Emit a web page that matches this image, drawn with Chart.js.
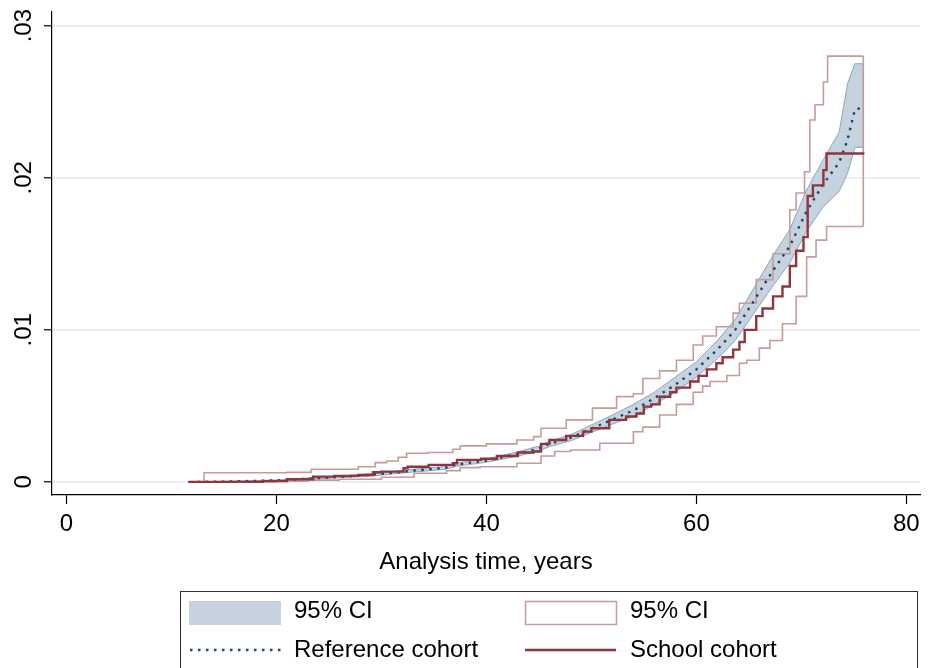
<!DOCTYPE html>
<html>
<head>
<meta charset="utf-8">
<script src="https://cdn.jsdelivr.net/npm/chart.js@4.4.1/dist/chart.umd.min.js"></script>
<style>
  html, body { margin: 0; padding: 0; background: #fff; }
</style>
</head>
<body>
<canvas id="kmChart" width="929" height="668"></canvas>
<script>
// axis ticks
const xTicks = [0, 20, 40, 60, 80];
const yTicks = [0, 0.01, 0.02, 0.03];
const yTickLabels = ["0", ".01", ".02", ".03"];
const legendLabels = ["95% CI", "Reference cohort", "95% CI", "School cohort"];

// Reference cohort: estimate + 95% CI
const refTime = [12.5, 15, 20, 24, 28, 30, 33, 36, 37.2, 40, 43, 45, 46, 48, 50, 52, 54, 56, 58, 60,
  62, 63.7, 65.1, 66.2, 67.3, 68.9, 70.5, 72.1, 73.6, 74.4, 75.1, 75.9];
const refEst = [0, 0.00002, 0.0001, 0.00025, 0.00042, 0.00053, 0.00074, 0.00092, 0.00115, 0.0014,
  0.00184, 0.0022, 0.0025, 0.0029, 0.0035, 0.0041, 0.0047, 0.0055, 0.0064, 0.0074,
  0.0087, 0.0100, 0.0115, 0.0127, 0.0139, 0.0155, 0.0178, 0.0196, 0.0210, 0.0225, 0.0245, 0.0246];
const refLo = [0, 0.00001, 0.00007, 0.0002, 0.00035, 0.00045, 0.00065, 0.00082, 0.00104, 0.00129,
  0.0017, 0.00204, 0.00232, 0.0027, 0.00325, 0.0038, 0.0043, 0.0051, 0.0059, 0.0069,
  0.0081, 0.0093, 0.0107, 0.0118, 0.0129, 0.0144, 0.0165, 0.0181, 0.0191, 0.0203, 0.0220, 0.0220];
const refHi = [0, 0.00004, 0.00013, 0.0003, 0.00049, 0.00061, 0.00083, 0.00102, 0.00126, 0.00151,
  0.00198, 0.00236, 0.00268, 0.0031, 0.00375, 0.0044, 0.0051, 0.0059, 0.0069, 0.0079,
  0.0093, 0.0107, 0.0123, 0.0136, 0.0149, 0.0166, 0.0192, 0.0212, 0.0230, 0.0262, 0.0275, 0.0275];

// School cohort: step estimate
const schoolTime = [11.6, 18.7, 21, 23.5, 25.5, 27.8, 29.2, 30, 32.1, 32.5, 34.5, 36.8, 37.2, 39.5, 41,
  43, 44.5, 45.2, 46, 47.6, 49.2, 50, 51.7, 53.3, 54.3, 55, 55.7, 56.5, 57.5, 58.1,
  59.4, 60.2, 61, 61.9, 62.5, 63.5, 64.1, 64.6, 65.7, 66.3, 67.3, 68.2, 68.9, 69.5, 70.2,
  70.6, 71.1, 72.1, 72.4, 76.0];
const schoolEst = [0, 0.00005, 0.00018, 0.00035, 0.0004, 0.00046, 0.00064, 0.00068, 0.0009, 0.001,
  0.00112, 0.00123, 0.00145, 0.00152, 0.0017, 0.00193, 0.002, 0.0025, 0.00276, 0.00303,
  0.00331, 0.00353, 0.00408, 0.0043, 0.0045, 0.00495, 0.0051, 0.0056, 0.0059, 0.0062,
  0.0066, 0.00697, 0.0074, 0.0078, 0.0082, 0.0087, 0.0092, 0.0100, 0.0109, 0.0114,
  0.0122, 0.01285, 0.0142, 0.0152, 0.0161, 0.0188, 0.0195, 0.0205, 0.0216, 0.0216];

// School cohort: 95% CI bounds
const schoolHiTime = [11.6, 13.1, 21, 23.3, 27.8, 29.4, 30.5, 31.6, 32.4, 34.4, 36.8, 37.5, 40, 42.9, 44.5,
  45.2, 47.6, 50.1, 52.4, 54, 54.9, 56.5, 58.1, 59.7, 60.6, 61.9, 63.5, 64.1, 65.7, 67.3,
  68.9, 69.5, 70.3, 70.8, 71.3, 72.1, 72.5, 75.9];
const schoolHi = [0, 0.0006, 0.00063, 0.00083, 0.001, 0.00127, 0.00138, 0.00162, 0.00189, 0.00193,
  0.00215, 0.00237, 0.0025, 0.00276, 0.00298, 0.00353, 0.00408, 0.00485, 0.00561, 0.0058,
  0.0068, 0.0073, 0.0080, 0.0090, 0.0096, 0.0102, 0.0111, 0.01175, 0.0133, 0.0150,
  0.0179, 0.0190, 0.0204, 0.0238, 0.0248, 0.0263, 0.0280, 0.0280];
const schoolLoTime = [11.6, 20, 23, 26, 30, 33.1, 36.2, 37.5, 39.4, 42.9, 45.2, 46.5, 48, 50.8, 54,
  54.9, 56.5, 58.1, 59.7, 60.6, 61.3, 62.9, 64.1, 64.8, 66, 67, 68.2, 69.5, 70.5, 71.4,
  72.4, 75.9];
const schoolLo = [0, 0.00005, 0.00012, 0.00018, 0.00031, 0.00057, 0.00074, 0.00094, 0.001, 0.00123,
  0.0017, 0.002, 0.0021, 0.00254, 0.0033, 0.0036, 0.0044, 0.0051, 0.0059, 0.0063,
  0.0066, 0.0070, 0.0078, 0.0080, 0.0088, 0.0093, 0.0104, 0.0122, 0.0148, 0.0159,
  0.0168, 0.0168];

const FONT = '"Liberation Sans", Arial, sans-serif';
const navy = "#1a476f";
const maroon = "#90353b";
const pink = "#c69c98";
const bandFill = "#c6d2de";
const bandEdge = "#8ea5bd";

function toPoints(times, values) {
  return times.map((t, i) => ({ x: t, y: values[i] }));
}

// close the CI outlines at the right end (vertical edge between last hi and lo points)
const closeCI = {
  id: "closeCI",
  afterDatasetDraw(chart, args) {
    let pair = null, color;
    if (args.index === 2) { pair = [2, 3]; color = pink; }
    if (args.index === 4) { pair = [4, 5]; color = bandEdge; }
    if (!pair) return;
    const a = chart.getDatasetMeta(pair[0]).data;
    const b = chart.getDatasetMeta(pair[1]).data;
    const p = a[a.length - 1], q = b[b.length - 1];
    const ctx = chart.ctx;
    ctx.save();
    ctx.strokeStyle = color;
    ctx.lineWidth = chart.data.datasets[pair[0]].borderWidth;
    ctx.beginPath();
    ctx.moveTo(p.x, p.y);
    ctx.lineTo(q.x, q.y);
    ctx.stroke();
    ctx.restore();
  }
};

// rotated y labels (Stata style)
const yLabels = {
  id: "yLabels",
  afterDraw(chart) {
    const y = chart.scales.y;
    const ctx = chart.ctx;
    ctx.save();
    ctx.fillStyle = "#000";
    ctx.font = "24px " + FONT;
    ctx.textAlign = "center";
    ctx.textBaseline = "middle";
    yTicks.forEach((v, i) => {
      ctx.save();
      ctx.translate(24, y.getPixelForValue(v));
      ctx.rotate(-Math.PI / 2);
      ctx.fillText(yTickLabels[i], 0, 0);
      ctx.restore();
    });
    ctx.restore();
  }
};

// legend box underneath
const legendBox = {
  id: "legendBox",
  afterDraw(chart) {
    const ctx = chart.ctx;
    const ds = chart.data.datasets;
    ctx.save();
    ctx.strokeStyle = "#333";
    ctx.lineWidth = 1;
    ctx.strokeRect(180.5, 591.5, 737, 100);

    ctx.font = "24px " + FONT;
    ctx.textBaseline = "middle";
    ctx.textAlign = "left";

    // CI band (reference)
    ctx.fillStyle = ds[5].backgroundColor;
    ctx.fillRect(189, 601, 92, 24);
    // CI outline (school)
    ctx.strokeStyle = ds[2].borderColor;
    ctx.lineWidth = 1.5;
    ctx.strokeRect(525.5, 601.5, 91, 23);
    // dotted reference
    ctx.strokeStyle = ds[1].borderColor;
    ctx.lineWidth = ds[1].borderWidth;
    ctx.setLineDash(ds[1].borderDash);
    ctx.beginPath(); ctx.moveTo(190, 650); ctx.lineTo(281, 650); ctx.stroke();
    ctx.setLineDash([]);
    // solid school
    ctx.strokeStyle = ds[0].borderColor;
    ctx.lineWidth = ds[0].borderWidth;
    ctx.beginPath(); ctx.moveTo(525, 650); ctx.lineTo(616, 650); ctx.stroke();

    ctx.fillStyle = "#000";
    ctx.fillText(legendLabels[0], 294, 611);
    ctx.fillText(legendLabels[1], 294, 650);
    ctx.fillText(legendLabels[2], 630, 611);
    ctx.fillText(legendLabels[3], 630, 650);
    ctx.restore();
  }
};

const ctx = document.getElementById("kmChart").getContext("2d");
const chart = new Chart(ctx, {
  type: "line",
  data: {
    datasets: [
      {
        label: "School cohort",
        data: toPoints(schoolTime, schoolEst),
        borderColor: maroon,
        borderWidth: 2.4,
        stepped: true,
        fill: false,
      },
      {
        label: "Reference cohort",
        data: toPoints(refTime, refEst),
        borderColor: navy,
        borderWidth: 2.4,
        borderDash: [2.5, 5.5],
        fill: false,
      },
      {
        label: "95% CI school hi",
        data: toPoints(schoolHiTime, schoolHi),
        borderColor: pink,
        borderWidth: 1.6,
        stepped: true,
        fill: false,
      },
      {
        label: "95% CI school lo",
        data: toPoints(schoolLoTime, schoolLo),
        borderColor: pink,
        borderWidth: 1.6,
        stepped: true,
        fill: false,
      },
      {
        label: "95% CI ref hi",
        data: toPoints(refTime, refHi),
        borderColor: bandEdge,
        borderWidth: 1,
        fill: false,
      },
      {
        label: "95% CI ref lo",
        data: toPoints(refTime, refLo),
        borderColor: bandEdge,
        borderWidth: 1,
        backgroundColor: bandFill,
        fill: "-1",
      },
    ],
  },
  options: {
    responsive: false,
    animation: false,
    elements: { point: { radius: 0 }, line: { tension: 0 } },
    layout: { padding: { top: 12, right: 9, bottom: 91, left: 0 } },
    plugins: { legend: { display: false }, tooltip: { enabled: false } },
    scales: {
      x: {
        type: "linear",
        min: -1.38,
        max: 81.3,
        afterBuildTicks: (s) => { s.ticks = xTicks.map((v) => ({ value: v })); },
        afterFit: (s) => { s.height = 82; },
        ticks: {
          color: "#000",
          font: { family: FONT, size: 24 },
          padding: 6,
          maxRotation: 0,
          autoSkip: false,
        },
        grid: {
          drawOnChartArea: false,
          drawTicks: true,
          tickLength: 9,
          tickColor: "#000",
          tickWidth: 1.2,
        },
        border: { display: true, color: "#000", width: 1.2 },
        title: {
          display: true,
          text: "Analysis time, years",
          color: "#000",
          font: { family: FONT, size: 24 },
          padding: 0,
        },
      },
      y: {
        type: "linear",
        min: -0.00086,
        max: 0.0309,
        afterBuildTicks: (s) => { s.ticks = yTicks.map((v) => ({ value: v })); },
        afterFit: (s) => { s.width = 52; },
        ticks: { display: false },
        grid: {
          color: "#e0ebee",
          lineWidth: 1.5,
          drawTicks: true,
          tickLength: 8,
          tickColor: "#000",
          tickWidth: 1.2,
        },
        border: { display: true, color: "#000", width: 1.2 },
      },
    },
  },
  plugins: [closeCI, yLabels, legendBox],
});
</script>
</body>
</html>
